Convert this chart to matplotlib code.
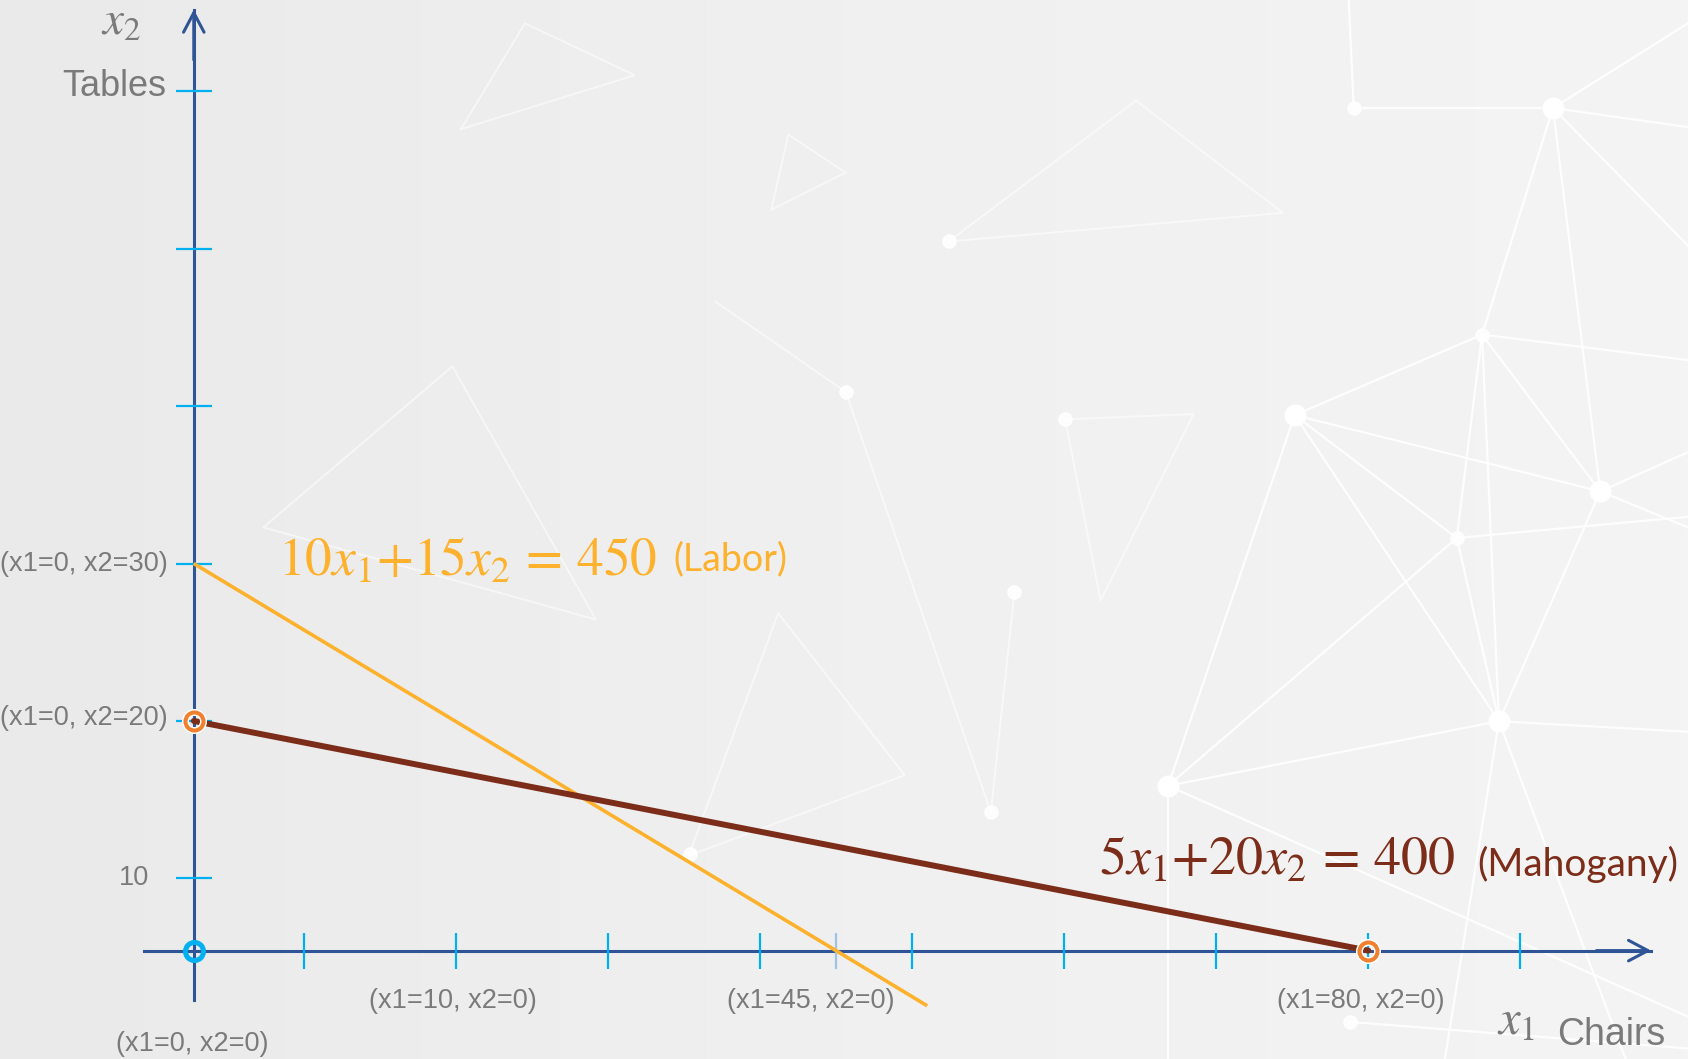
import numpy as np
import matplotlib.pyplot as plt
from matplotlib.colors import LinearSegmentedColormap
from matplotlib.ticker import NullLocator

plt.rcParams['mathtext.fontset'] = 'stix'
plt.rcParams['font.family'] = ['Liberation Sans', 'DejaVu Sans']

# tick marks on both axes, one every 10 units
x_ticks = [10, 20, 30, 40, 50, 60, 70, 80, 90]
y_ticks = [10, 20, 30, 40, 50, 60]
x_cut = [45]

# labor: 10 x1 + 15 x2 = 450 (runs a little past the x1 axis)
labor_x1 = [0, 45, 51]
labor_x2 = [30, 0, -4]
# mahogany: 5 x1 + 20 x2 = 400
mahog_x1 = [0, 80]
mahog_x2 = [20, 0]

# corner points drawn as rings
ring_x1 = [0, 80]
ring_x2 = [20, 0]

# background network: polylines in figure fractions
net_nodes_big = [(0.920, 0.898), (0.767, 0.608), (0.948, 0.536), (0.888, 0.319), (0.692, 0.258)]
net_nodes_small = [(0.802, 0.898), (0.878, 0.684), (0.863, 0.492), (0.800, 0.035),
                   (0.562, 0.772), (0.631, 0.604), (0.501, 0.630), (0.587, 0.233),
                   (0.601, 0.441), (0.409, 0.194)]
net_edges = [
    [(0.799, 1.0), (0.802, 0.898), (0.920, 0.898), (1.0, 0.978)],
    [(0.920, 0.898), (1.0, 0.880)], [(0.920, 0.898), (1.0, 0.768)],
    [(0.920, 0.898), (0.878, 0.684)], [(0.920, 0.898), (0.948, 0.536)],
    [(0.878, 0.684), (0.767, 0.608)], [(0.878, 0.684), (0.888, 0.319)],
    [(0.878, 0.684), (1.0, 0.660)], [(0.878, 0.684), (0.948, 0.536)],
    [(0.878, 0.684), (0.863, 0.492)],
    [(0.767, 0.608), (0.692, 0.258)], [(0.767, 0.608), (0.888, 0.319)],
    [(0.767, 0.608), (0.948, 0.536)], [(0.767, 0.608), (0.863, 0.492)],
    [(0.948, 0.536), (1.0, 0.573)], [(0.948, 0.536), (0.888, 0.319)],
    [(0.948, 0.536), (1.0, 0.502)], [(0.863, 0.492), (1.0, 0.512)],
    [(0.863, 0.492), (0.692, 0.258)],
    [(0.888, 0.319), (0.692, 0.258)], [(0.888, 0.319), (1.0, 0.309)],
    [(0.888, 0.319), (0.963, 0.0)], [(0.888, 0.319), (0.856, 0.0)],
    [(0.888, 0.319), (0.863, 0.492)],
    [(0.692, 0.258), (0.692, 0.0)], [(0.692, 0.258), (1.0, 0.040)],
    [(0.800, 0.035), (1.0, 0.010)],
]
net_faint = [
    [(0.273, 0.878), (0.311, 0.978), (0.376, 0.929), (0.273, 0.878)],
    [(0.457, 0.802), (0.467, 0.873), (0.501, 0.837), (0.457, 0.802)],
    [(0.562, 0.772), (0.673, 0.905), (0.760, 0.799), (0.562, 0.772)],
    [(0.631, 0.604), (0.707, 0.609), (0.652, 0.433), (0.631, 0.604)],
    [(0.268, 0.654), (0.156, 0.502), (0.353, 0.415), (0.268, 0.654)],
    [(0.461, 0.421), (0.408, 0.192), (0.536, 0.268), (0.461, 0.421)],
    [(0.424, 0.715), (0.501, 0.630), (0.587, 0.233), (0.601, 0.441)],
]

W, H = 1688, 1059
axis_blue = '#2F5597'
tick_cyan = '#00B0F0'
gray = '#7a7a7a'
orange = '#FDB12C'
brown = '#7C2D1A'

fig = plt.figure(figsize=(W / 100, H / 100), dpi=100)

# backdrop with the light network drawing
bg = fig.add_axes([0, 0, 1, 1], zorder=-1)
shade = LinearSegmentedColormap.from_list('shade', ['#EAEAEA', '#F0F0F0', '#F4F4F4'])
bg.imshow(np.linspace(0, 1, 256)[None, :], extent=[0, 1, 0, 1], cmap=shade, aspect='auto')
for line in net_faint:
    xs, ys = zip(*line)
    bg.plot(xs, ys, color='white', lw=1.4, alpha=0.55)
for line in net_edges:
    xs, ys = zip(*line)
    bg.plot(xs, ys, color='white', lw=1.6, alpha=0.9)
bx, by = zip(*net_nodes_big)
bg.scatter(bx, by, s=220, color='white', zorder=3)
sx_, sy_ = zip(*net_nodes_small)
bg.scatter(sx_, sy_, s=90, color='white', alpha=0.9, zorder=3)
bg.set_xlim(0, 1)
bg.set_ylim(0, 1)
bg.axis('off')


def piecewise(first, below):
    # the first 10 units of an axis are drawn shorter than the rest
    src = [-1000, 0, 10, 1000]
    dst = [-100 * below, 0, first, first + 99]
    return (lambda v: np.interp(v, src, dst), lambda v: np.interp(v, dst, src))


fx, ix = piecewise(0.722, 0.722)
fy, iy = piecewise(0.459, 0.877)

ax = fig.add_axes([0, 0, 1, 1])
ax.patch.set_alpha(0)
ax.set_xscale('function', functions=(fx, ix))
ax.set_yscale('function', functions=(fy, iy))

# constraint lines
ax.plot(labor_x1, labor_x2, color=orange, lw=2.6, solid_capstyle='butt', zorder=4)
ax.plot(mahog_x1, mahog_x2, color=brown, lw=4.3, solid_capstyle='round', zorder=4)

# rings on the corner points and the origin
ax.plot(ring_x1, ring_x2, 'o', ms=13, mfc='none', mec='white', mew=5, zorder=5)
ax.plot(ring_x1, ring_x2, 'o', ms=13, mfc='none', mec='#F07F2E', mew=2.9, zorder=6)
ax.plot([0], [0], 'o', ms=13, mfc='none', mec=tick_cyan, mew=3.6, zorder=6)

# axes drawn through the origin, ending in open arrowheads
for side in ['top', 'right']:
    ax.spines[side].set_visible(False)
for side in ['bottom', 'left']:
    ax.spines[side].set_position(('data', 0))
    ax.spines[side].set_color(axis_blue)
    ax.spines[side].set_linewidth(2.2)
ax.spines['bottom'].set_bounds(-4.5, 98.6)
ax.spines['left'].set_bounds(-3.6, 65.2)
head = dict(arrowstyle='->,head_length=0.7,head_width=0.37', color=axis_blue, lw=2.2,
            shrinkA=0, shrinkB=0, mutation_scale=20)
ax.annotate('', xy=(98.6, 0), xytext=(95, 0), arrowprops=head, zorder=3)
ax.annotate('', xy=(0, 65.2), xytext=(0, 62), arrowprops=head, zorder=3)

ax.set_xticks(x_ticks)
ax.set_yticks(y_ticks)
ax.set_xticks(x_cut, minor=True)
ax.yaxis.set_minor_locator(NullLocator())
ax.tick_params(which='both', direction='inout', length=26, width=1.6, color=tick_cyan,
               labelbottom=False, labelleft=False)
ax.tick_params(axis='x', which='minor', color='#9DC3E6')
ax.xaxis.set_zorder(3)
ax.yaxis.set_zorder(3)

# point labels
lab = dict(color=gray, fontsize=19.5, textcoords='offset pixels', va='center')
ax.annotate('(x1=0, x2=30)', (0, 30), xytext=(-26, 0), ha='right', **lab)
ax.annotate('(x1=0, x2=20)', (0, 20), xytext=(-26, 3), ha='right', **lab)
ax.annotate('10', (0, 10), xytext=(-45, 0), ha='right', **lab)
ax.annotate('(x1=0, x2=0)', (0, 0), xytext=(-2, -93), ha='center', **lab)
ax.annotate('(x1=10, x2=0)', (x_ticks[1], 0), xytext=(-3, -50), ha='center', **lab)
ax.annotate('(x1=45, x2=0)', (45, 0), xytext=(-25, -50), ha='center', **lab)
ax.annotate('(x1=80, x2=0)', (80, 0), xytext=(-8, -50), ha='center', **lab)


def at(px, py):
    return px / W, 1 - py / H


# axis titles
ax.text(*at(101, 35), r'$x_2$', fontsize=34, color=gray, ha='left', va='baseline',
        transform=ax.transAxes)
ax.text(*at(166, 96), 'Tables', fontsize=26, color=gray, ha='right', va='baseline',
        transform=ax.transAxes)
ax.text(*at(1497, 1034), r'$x_1$', fontsize=35, color=gray, ha='left', va='baseline',
        transform=ax.transAxes)
ax.text(*at(1557, 1045), 'Chairs', fontsize=27, color=gray, ha='left', va='baseline',
        transform=ax.transAxes)

# constraint equations
ax.text(*at(278, 576), r'$10x_1{+}15x_2\,=\,450$', fontsize=38.5, color=orange,
        ha='left', va='baseline', transform=ax.transAxes)
ax.text(*at(673, 570), '(Labor)', fontsize=27, color=orange, family=['Lato', 'DejaVu Sans'],
        ha='left', va='baseline', transform=ax.transAxes)
ax.text(*at(1099, 875), r'$5x_1{+}20x_2\,=\,400$', fontsize=39, color=brown,
        ha='left', va='baseline', transform=ax.transAxes)
ax.text(*at(1477, 876), '(Mahogany)', fontsize=28, color=brown, family=['Lato', 'DejaVu Sans'],
        ha='left', va='baseline', transform=ax.transAxes)

# origin at 193.8 px from the left and 108.4 px from the bottom
ox, oy = 193.8, 108.4
px_x, px_y = 152.1, 157.4
ax.set_xlim(ix(-ox / px_x), ix((W - ox) / px_x))
ax.set_ylim(iy(-oy / px_y), iy((H - oy) / px_y))

fig.savefig('out.png', dpi=100)
